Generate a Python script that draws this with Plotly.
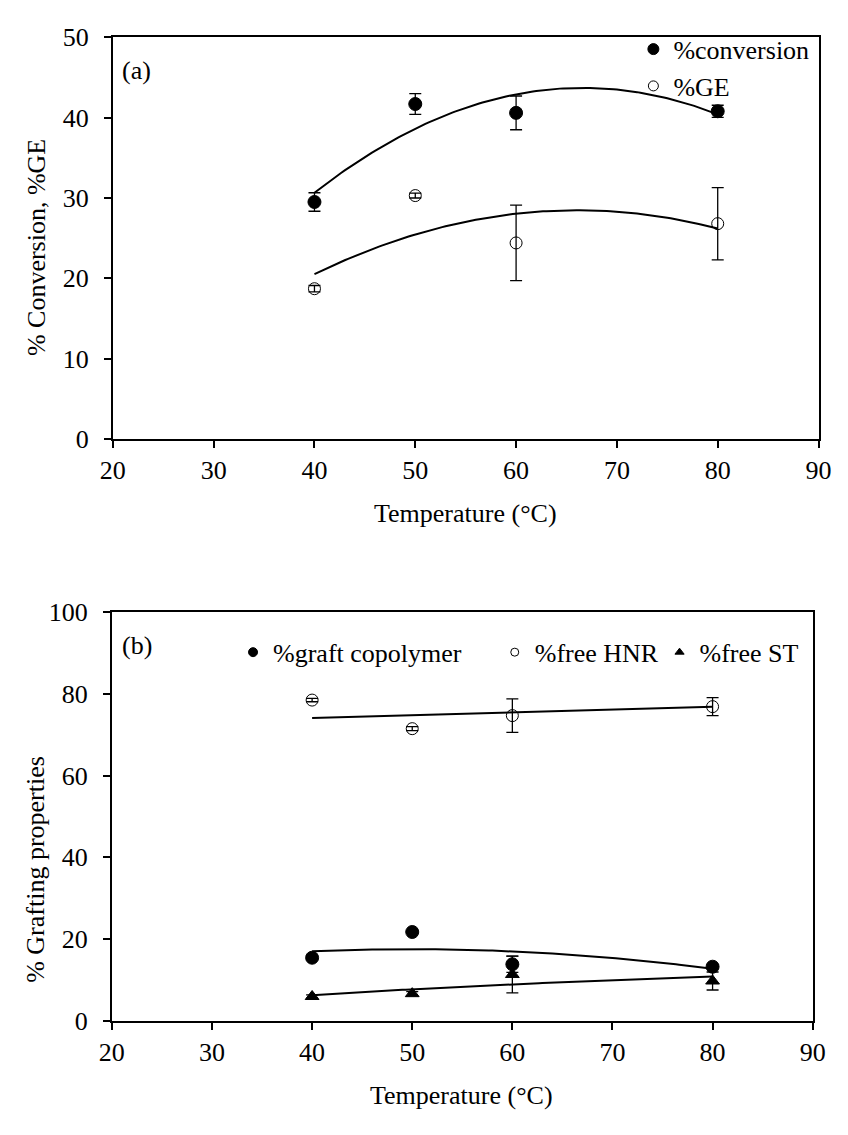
import numpy as np
import plotly.graph_objects as go

# Reaction temperature (°C)
temperature = [40, 50, 60, 80]

# (a) monomer conversion and grafting efficiency
conversion = [29.5, 41.7, 40.6, 40.8]
conversion_err = [1.15, 1.3, 2.1, 0.75]
ge = [18.7, 30.3, 24.4, 26.8]
ge_err = [0.4, 0.3, 4.7, 4.5]

# (b) grafting properties
graft = [15.4, 21.7, 13.8, 13.2]
graft_err = [0.5, 0.3, 2.0, 0.5]
free_hnr = [78.5, 71.5, 74.7, 76.9]
free_hnr_err = [0.4, 0.5, 4.1, 2.2]
free_st = [5.9, 6.6, 11.3, 9.7]
free_st_err = [0.4, 0.5, 4.5, 2.2]

# straight trend for free HNR, values at the ends of the temperature span
hnr_trend_x = [40, 80]
hnr_trend = [74.1, 76.9]

x_ticks_a = [20, 30, 40, 50, 60, 70, 80, 90]
y_ticks_a = [0, 10, 20, 30, 40, 50]
y_ticks_b = [0, 20, 40, 60, 80, 100]

FONT = "Liberation Serif, Times New Roman, serif"
W, H = 848, 1135

# fitted trend curves
x_fit = np.linspace(min(temperature), max(temperature), 121)
conv_fit = np.polyval(np.polyfit(temperature, conversion, 2), x_fit)
ge_fit = np.polyval(np.polyfit(temperature, ge, 2), x_fit)
graft_fit = np.polyval(np.polyfit(temperature, graft, 2), x_fit)
st_b, st_a = np.polyfit(np.log(temperature), free_st, 1)
st_fit = st_a + st_b * np.log(x_fit)

fig = go.Figure()


def err(values):
    return dict(type="data", array=values, visible=True, color="black",
                thickness=1.3, width=6)


def fit_line(x, y, xa, ya):
    fig.add_trace(go.Scatter(x=x, y=y, mode="lines", xaxis=xa, yaxis=ya,
                             line=dict(color="black", width=2),
                             showlegend=False, hoverinfo="skip"))


def points(y, e, symbol, size, xa, ya):
    fig.add_trace(go.Scatter(x=temperature, y=y, mode="markers", xaxis=xa, yaxis=ya,
                             error_y=err(e), showlegend=False,
                             marker=dict(symbol=symbol, size=size, color="black",
                                         line=dict(color="black", width=1))))


def legend_entry(name, symbol, size, legend):
    fig.add_trace(go.Scatter(x=[None], y=[None], mode="markers", name=name,
                             legend=legend, showlegend=True,
                             marker=dict(symbol=symbol, size=size, color="black",
                                         line=dict(color="black", width=1))))


# panel (a)
fit_line(x_fit, conv_fit, "x", "y")
fit_line(x_fit, ge_fit, "x", "y")
points(conversion, conversion_err, "circle", 13, "x", "y")
points(ge, ge_err, "circle-open", 12, "x", "y")

# panel (b)
fit_line(x_fit, graft_fit, "x2", "y2")
fit_line(hnr_trend_x, hnr_trend, "x2", "y2")
fit_line(x_fit, st_fit, "x2", "y2")
points(free_hnr, free_hnr_err, "circle-open", 12, "x2", "y2")
points(free_st, free_st_err, "triangle-up", 12, "x2", "y2")
points(graft, graft_err, "circle", 13, "x2", "y2")

legend_entry("%conversion", "circle", 11, "legend")
legend_entry("%GE", "circle-open", 10, "legend")
legend_entry("%graft copolymer", "circle", 9, "legend2")
legend_entry("%free HNR", "circle-open", 8, "legend3")
legend_entry("%free ST", "triangle-up", 8, "legend4")

axis_common = dict(showline=True, linewidth=2, linecolor="black", mirror=True,
                   ticks="outside", ticklen=7, tickwidth=2, tickcolor="black",
                   showgrid=False, zeroline=False,
                   tickfont=dict(family=FONT, size=26, color="black"))


def py(v):
    return 1 - v / H


def px(v):
    return v / W


def text_font():
    return dict(family=FONT, size=26, color="black")


fig.update_layout(
    width=W, height=H,
    margin=dict(l=0, r=0, t=0, b=0),
    paper_bgcolor="white", plot_bgcolor="white",
    font=text_font(),
    xaxis=dict(axis_common, range=[20, 90], tickvals=x_ticks_a,
               domain=[px(103), px(831)], anchor="y", ticklabelstandoff=0),
    yaxis=dict(axis_common, range=[0, 50], tickvals=y_ticks_a,
               domain=[py(436), py(24)], anchor="x", ticklabelstandoff=10),
    xaxis2=dict(axis_common, range=[20, 90], tickvals=x_ticks_a,
                domain=[px(102), px(825)], anchor="y2", ticklabelstandoff=0),
    yaxis2=dict(axis_common, range=[0, 100], tickvals=y_ticks_b,
                domain=[py(1033), py(614)], anchor="x2", ticklabelstandoff=10),
    legend=dict(x=px(640), y=py(12), xanchor="left", yanchor="top",
                orientation="v", bgcolor="rgba(0,0,0,0)", tracegroupgap=0,
                font=text_font()),
    legend2=dict(x=px(227), y=py(655), xanchor="left", yanchor="middle",
                 orientation="h", bgcolor="rgba(0,0,0,0)", font=text_font()),
    legend3=dict(x=px(497), y=py(655), xanchor="left", yanchor="middle",
                 orientation="h", bgcolor="rgba(0,0,0,0)", font=text_font()),
    legend4=dict(x=px(667), y=py(655), xanchor="left", yanchor="middle",
                 orientation="h", bgcolor="rgba(0,0,0,0)", font=text_font()),
    annotations=[
        dict(text="(a)", x=px(110), y=py(58), xref="paper", yref="paper",
             xanchor="left", yanchor="middle", showarrow=False, font=text_font()),
        dict(text="(b)", x=px(110), y=py(648), xref="paper", yref="paper",
             xanchor="left", yanchor="middle", showarrow=False, font=text_font()),
        dict(text="% Conversion, %GE", x=px(25), y=py(240), xref="paper", yref="paper",
             textangle=-90, showarrow=False, xanchor="center", yanchor="middle",
             font=text_font()),
        dict(text="% Grafting properties", x=px(23), y=py(878), xref="paper", yref="paper",
             textangle=-90, showarrow=False, xanchor="center", yanchor="middle",
             font=text_font()),
        dict(text="Temperature (°C)", x=px(467), y=py(513), xref="paper", yref="paper",
             showarrow=False, xanchor="center", yanchor="middle", font=text_font()),
        dict(text="Temperature (°C)", x=px(463), y=py(1110), xref="paper", yref="paper",
             showarrow=False, xanchor="center", yanchor="middle", font=text_font()),
    ],
)

fig.write_html("out.html")
